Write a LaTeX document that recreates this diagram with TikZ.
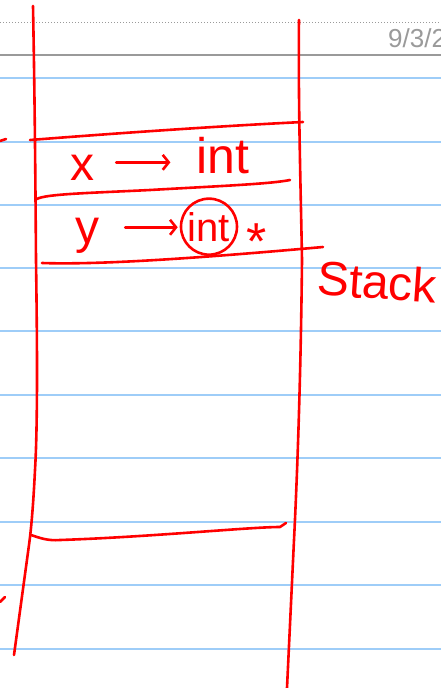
\documentclass[tikz,border=0pt]{standalone}
\usepackage{fontspec}
\setmainfont{Liberation Sans}
\usetikzlibrary{arrows.meta}
\definecolor{pen}{HTML}{FF0000}
\definecolor{rule}{HTML}{9ECDF8}
\definecolor{head}{HTML}{9A9A9A}
\tikzset{
  hand/.style={draw=pen, line width=2.6pt, line cap=round, line join=round},
  handtext/.style={text=pen, inner sep=0pt},
  harrow/.style={hand, -{Straight Barb[length=6pt,width=15pt,line width=2.6pt]}},
  ruleline/.style={draw=rule, line width=1.8pt},
}
\begin{document}
\begin{tikzpicture}[x=1pt,y=-1pt]
\useasboundingbox (0,0) rectangle (441,688);
\fill[white] (0,0) rectangle (441,688);
% page rules
\draw[head, dotted, line width=1pt] (0,22) -- (441,22);
\draw[head, line width=1.6pt] (0,55) -- (441,55);
\foreach \yy in {78,142,205,268,331,395,458,522,585,649}
  \draw[ruleline] (0,\yy) -- (441,\yy);
\node[text=head, font=\fontsize{26}{26}\selectfont, anchor=base west, inner sep=0pt] (date) at (388,47) {9/3/2};
% stack walls
\draw[hand] (33,6) .. controls (34,60) and (35,120) .. (36,260)
  .. controls (37,330) and (38,420) .. (35,470)
  .. controls (33,510) and (31,530) .. (29,545)
  -- (14,655);
\draw[hand] (299,20) .. controls (298,100) and (301,200) .. (302,260)
  .. controls (301,360) and (298,460) .. (294,540)
  -- (287,688);
% frame lines
\draw[hand] (30,140) .. controls (120,133) and (220,126) .. (303,122);
\draw[hand] (37,199) .. controls (45,194) and (90,193) .. (150,190)
  .. controls (220,186) and (270,184) .. (290,180);
\draw[hand] (42,263) .. controls (100,265) and (200,258) .. (323,247);
\draw[hand] (31,535) .. controls (40,538) and (48,541) .. (60,540)
  .. controls (150,537) and (250,527) .. (280,527) -- (286,523);
% edge marks
\draw[hand] (0,141) -- (6,139);
\draw[hand] (0,602) -- (5,597);
% row 1
\node[handtext, font=\fontsize{48}{48}\selectfont, anchor=base] (x) at (82,180) {x};
\node[handtext, font=\fontsize{50}{50}\selectfont, anchor=base] (int) at (223,173) {int};
\draw[harrow, shorten <=22pt, shorten >=26pt] ([yshift=5pt]x.east) -- ([yshift=5pt]x.east -| int.west);
% row 2
\node[handtext, font=\fontsize{48}{48}\selectfont, anchor=base] (y) at (87,243) {y};
\node[handtext, font=\fontsize{40}{40}\selectfont, anchor=base, circle, draw=pen, line width=2.6pt, minimum size=56pt] (yint) at (209,241) {int};
\node[handtext, font=\fontsize{52}{52}\selectfont, anchor=base] (star) at (257,259) {*};
\draw[harrow, shorten <=26pt, shorten >=2pt] ([yshift=8pt]y.east) -- ([yshift=8pt]y.east -| yint.west);
% label
\node[handtext, font=\fontsize{48}{48}\selectfont, anchor=base, rotate=-4] (stack) at (376,299) {Stack};
\end{tikzpicture}
\end{document}
